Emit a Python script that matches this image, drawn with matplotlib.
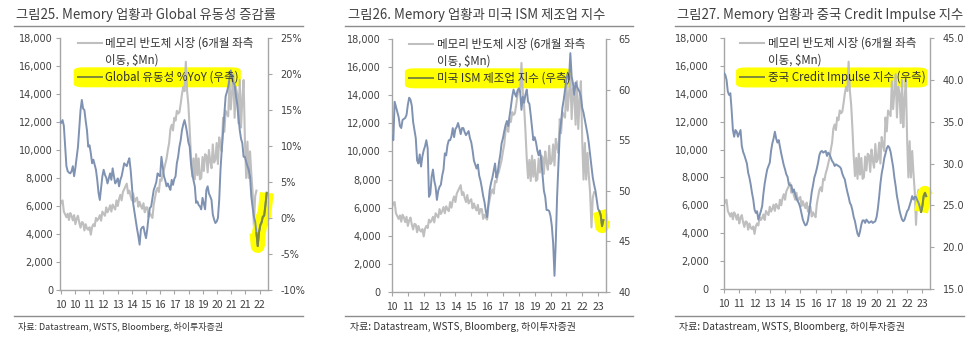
import numpy as np
import matplotlib
matplotlib.use("Agg")
import matplotlib.pyplot as plt
from matplotlib.lines import Line2D
from matplotlib.patches import FancyBboxPatch

plt.rcParams["font.family"] = ["Noto Sans CJK KR", "DejaVu Sans"]

W, H = 972, 346
GRAY = "#BFBFBF"
BLUE = "#7F92B2"
OLIVE = "#7F8A3A"
YELLOW = "#FFFF00"
AXIS = "#A6A6A6"
TXT = "#404040"

# 메모리 반도체 시장 (6개월 좌측 이동, $Mn), 월별, 2010-01 부터
memory = [
    6050, 6300, 6400, 5600, 5400, 5200, 5450, 5000, 5500, 5300, 4970, 5350,
    4700, 5100, 5300, 4800, 4450, 4850, 4800, 4250, 4700, 4400, 4300, 4480,
    3950, 4500, 4700, 4550, 5150, 4950, 5100, 5350, 4950, 5600, 5450, 5300,
    5900, 5550, 5750, 6050, 5600, 6100, 5900, 5750, 6400, 6000, 6500, 6800,
    6400, 7000, 7200, 7400, 7600, 6900, 7100, 6700, 6400, 6900, 6300, 6500,
    6600, 5950, 6300, 6000, 5800, 6200, 5550, 5900, 5900, 5200, 5500, 5300,
    5150, 6100, 6600, 7100, 7300, 7000, 7900, 7800, 8300, 8600, 9000, 9400,
    10000, 10500, 11500, 11800, 11400, 12300, 12100, 12800, 12600, 12700, 13300, 14000,
    14500, 14200, 16300, 14200, 13200, 11500, 9500, 8100, 9400, 7900, 9700, 8200,
    9400, 7900, 8000, 9500, 8500, 9700, 9600, 8400, 10000, 9200, 8700, 10400,
    9100, 9300, 10500, 9000, 10900, 10300, 9900, 12300, 11300, 12800, 12600, 12400,
    14900, 12900, 14200, 15400, 12300, 14500, 14000, 11900, 15000, 11600, 13600, 15000,
    10800, 8000, 10600, 8000, 9900, 8300, 7000, 4600, 6700, 7100,
]

# Global 유동성 %YoY (우측)
liquidity = [
    13.4, 13.2, 13.6, 12.8, 10.0, 7.2, 6.5, 6.3, 6.2, 6.5, 7.2, 5.8,
    7.0, 8.5, 9.9, 12.5, 15.0, 16.4, 15.2, 15.0, 13.5, 12.2, 9.9, 10.1,
    9.0, 7.6, 8.1, 7.4, 6.7, 5.3, 3.5, 2.5, 4.2, 5.8, 6.7, 6.0,
    5.6, 4.8, 5.5, 6.2, 5.3, 6.9, 5.8, 4.8, 5.1, 5.5, 4.4, 5.3,
    5.8, 6.7, 7.6, 7.4, 7.2, 7.8, 8.3, 6.7, 4.5, 2.0, 0.8, -0.5,
    -1.5, -2.5, -3.7, -1.6, -1.3, -1.2, -2.1, -2.8, -1.5, 0.2, 1.4, 1.6,
    2.8, 3.9, 4.4, 5.0, 6.2, 5.9, 5.8, 8.5, 7.2, 5.8, 5.2, 4.4,
    4.8, 4.3, 3.9, 5.3, 4.6, 5.4, 5.8, 7.6, 8.5, 9.9, 10.8, 12.2,
    13.0, 13.6, 12.8, 11.8, 10.5, 9.9, 7.6, 6.2, 5.2, 4.4, 2.1, 2.3,
    1.8, 1.6, 1.2, 2.8, 2.0, 1.2, 3.9, 4.4, 3.4, 3.0, 2.5, 0.5,
    -0.2, -0.7, -0.5, 0.0, 2.5, 6.7, 9.5, 12.0, 14.5, 16.9, 17.5, 18.2,
    19.4, 20.5, 19.5, 18.8, 18.5, 17.0, 15.9, 14.0, 12.2, 11.0, 10.4, 8.5,
    8.5, 7.8, 7.2, 6.7, 5.8, 3.0, 1.5, 0.2, -0.5, -2.1, -3.9, -2.0,
    -1.0, -0.6, 0.2, 0.3, 1.8, 3.5,
]

# 미국 ISM 제조업 지수 (우측)
ism = [
    55.4, 55.0, 58.8, 58.3, 57.8, 57.3, 56.4, 56.2, 57.0, 57.1, 57.2, 57.5,
    58.5, 59.2, 59.0, 58.4, 56.8, 56.0, 55.2, 53.0, 52.7, 53.6, 52.4, 53.4,
    54.0, 54.4, 55.0, 54.2, 49.4, 49.7, 51.4, 52.1, 51.0, 50.4, 49.1, 50.0,
    50.4, 50.6, 51.5, 52.1, 53.7, 53.5, 54.5, 55.0, 55.0, 55.4, 56.2, 55.3,
    56.1, 56.3, 56.7, 56.2, 55.6, 56.2, 56.2, 55.8, 55.5, 55.7, 55.9, 55.2,
    54.8, 54.0, 53.0, 52.6, 52.2, 52.6, 51.5, 51.0, 50.3, 49.5, 48.9, 48.0,
    47.4, 48.8, 50.1, 50.8, 51.3, 52.0, 52.7, 51.3, 51.8, 52.8, 53.6, 54.7,
    55.2, 55.9, 56.5, 56.9, 56.4, 57.4, 58.3, 59.3, 60.0, 59.6, 59.3, 59.9,
    60.1, 59.8, 58.0, 59.3, 58.7, 59.5, 60.0, 58.8, 58.6, 57.5, 56.2, 55.0,
    55.3, 54.8, 54.0, 53.5, 54.0, 53.0, 51.5, 50.0, 49.4, 48.1, 48.1, 48.0,
    47.5, 46.5, 44.8, 41.6, 45.0, 49.5, 52.7, 55.7, 56.8, 58.2, 59.0, 60.0,
    61.0, 61.6, 61.0, 63.6, 61.3, 60.6, 59.5, 60.7, 60.3, 60.0, 59.8, 59.3,
    58.2, 57.7, 57.0, 56.3, 55.6, 54.7, 53.5, 52.4, 51.3, 50.6, 50.0, 49.1,
    48.2, 48.0, 47.6, 46.5, 47.1,
]

# 중국 Credit Impulse 지수 (우측)
credit = [
    40.8, 40.6, 40.0, 38.6, 38.2, 38.4, 36.4, 34.0, 33.2, 34.0, 33.8, 33.2,
    33.6, 34.0, 32.1, 31.4, 31.0, 30.5, 30.0, 28.9, 28.3, 27.5, 26.5, 25.7,
    24.5, 24.1, 24.3, 23.3, 23.8, 24.3, 24.9, 26.4, 27.6, 28.5, 29.3, 29.7,
    30.1, 31.5, 32.4, 33.0, 33.8, 33.0, 32.5, 32.8, 32.0, 31.2, 30.5, 29.8,
    29.3, 28.7, 28.4, 27.5, 27.4, 27.4, 26.6, 26.9, 26.3, 25.8, 25.5, 25.2,
    24.7, 24.0, 23.3, 22.9, 22.6, 22.7, 23.2, 24.2, 25.4, 26.6, 27.4, 28.3,
    28.8, 29.4, 30.1, 31.0, 31.4, 31.5, 31.3, 31.4, 31.5, 30.9, 31.3, 31.1,
    30.7, 30.3, 30.1, 29.7, 29.9, 29.8, 29.7, 29.6, 29.4, 28.8, 28.4, 28.1,
    27.3, 26.6, 26.0, 25.3, 25.0, 24.4, 23.6, 23.1, 22.3, 21.6, 21.3, 21.9,
    22.7, 23.2, 23.2, 22.9, 23.3, 23.1, 22.9, 23.0, 23.1, 22.9, 23.0, 23.1,
    23.6, 24.6, 26.0, 27.6, 28.8, 29.6, 30.6, 31.2, 31.8, 32.1, 31.9, 31.4,
    30.5, 29.6, 28.3, 27.3, 26.1, 25.3, 24.4, 23.8, 23.3, 23.1, 23.3, 23.8,
    24.3, 24.5, 25.0, 25.5, 26.1, 25.7, 26.0, 26.0, 25.6, 25.3, 24.8, 24.2,
    24.9, 26.1, 26.5, 26.1,
]

titles = [
    "그림25. Memory 업황과 Global 유동성 증감률",
    "그림26. Memory 업황과 미국 ISM 제조업 지수",
    "그림27. Memory 업황과 중국 Credit Impulse 지수",
]
memory_label = ["메모리 반도체 시장 (6개월 좌측", r"이동, \$Mn)"]
series_labels = ["Global 유동성 %YoY (우측)", "미국 ISM 제조업 지수 (우측)", "중국 Credit Impulse 지수 (우측)"]
source = "자료: Datastream, WSTS, Bloomberg, 하이투자증권"

left_ticks = list(range(0, 18001, 2000))
left_labels = ["{:,}".format(v) for v in left_ticks]
right_ticks_25 = [-10, -5, 0, 5, 10, 15, 20, 25]
right_labels_25 = ["-10%", "-5%", "0%", "5%", "10%", "15%", "20%", "25%"]
right_ticks_26 = [40, 45, 50, 55, 60, 65]
right_labels_26 = ["40", "45", "50", "55", "60", "65"]
right_ticks_27 = [15, 20, 25, 30, 35, 40, 45]
right_labels_27 = ["15.0", "20.0", "25.0", "30.0", "35.0", "40.0", "45.0"]
x_labels_25 = ["10", "10", "11", "12", "13", "14", "15", "16", "17", "18", "19", "20", "21", "21", "22"]
x_labels = ["10", "11", "12", "13", "14", "15", "16", "17", "18", "19", "20", "21", "22", "23"]

fig = plt.figure(figsize=(W / 100, H / 100), dpi=100)


def fig_line(x0, x1, y):
    fig.add_artist(Line2D([x0 / W, x1 / W], [1 - y / H, 1 - y / H],
                          transform=fig.transFigure, color="#8C8C8C", lw=1.0))


def panel(box, frame, title, series, label, rticks, rlabels, rlim, xlabels, hl_from,
          leg_x, lpad, rpad, src_size):
    left, top, right, bottom = box
    fx0, fx1, tx = frame
    ax = fig.add_axes([left / W, 1 - bottom / H, (right - left) / W, (bottom - top) / H])
    ax2 = ax.twinx()

    ax.plot(np.arange(len(memory)), memory, color=GRAY, lw=1.5, zorder=2)
    xs = np.arange(len(series))
    ax2.plot(xs[hl_from:], series[hl_from:], color=YELLOW, lw=10,
             solid_capstyle="butt", clip_on=False, zorder=1)
    ax2.plot(xs, series, color=BLUE, lw=1.4, zorder=2)
    ax2.plot(xs[hl_from:], series[hl_from:], color=OLIVE, lw=1.4, zorder=3, clip_on=False)

    ax.set_xlim(0, 162)
    ax.set_ylim(0, 18000)
    ax2.set_ylim(*rlim)
    ax.set_yticks(left_ticks, left_labels)
    ax2.set_yticks(rticks, rlabels)
    xpos = np.linspace(0.5, 155.5, len(xlabels)) if len(xlabels) == 15 else np.arange(len(xlabels)) * 12
    ax.set_xticks(xpos, xlabels)

    for s in ["top", "right"]:
        ax.spines[s].set_visible(False)
    for s in ["top", "left", "bottom"]:
        ax2.spines[s].set_visible(False)
    for sp in [ax.spines["left"], ax.spines["bottom"], ax2.spines["right"]]:
        sp.set_color(AXIS)
        sp.set_linewidth(1.0)
    ax.tick_params(axis="y", direction="out", length=3, color=AXIS, labelsize=7, labelcolor=TXT, pad=lpad)
    ax.tick_params(axis="x", direction="out", length=3, color=AXIS, labelsize=7.5, labelcolor=TXT, pad=4)
    ax2.tick_params(axis="y", direction="out", length=3, color=AXIS, labelsize=7, labelcolor=TXT, pad=rpad)
    plt.setp(ax.get_yticklabels(), family="DejaVu Sans")
    plt.setp(ax2.get_yticklabels(), family="DejaVu Sans")

    handles = [Line2D([], [], color=GRAY, lw=1.5), Line2D([], [], color="none"),
               Line2D([], [], color=OLIVE, lw=1.4)]
    leg = ax2.legend(handles, memory_label + [label], loc="upper left",
                     bbox_to_anchor=(leg_x, 1.005), frameon=False, fontsize=8.3,
                     handlelength=2.1, handletextpad=0.3, labelspacing=0.35,
                     borderpad=0, borderaxespad=0, labelcolor="#333333")

    fig.text(tx / W, 1 - 14.5 / H, title, fontsize=9.6, color=TXT, va="center", ha="left")
    fig_line(fx0, fx1, 26)
    fig_line(fx0, fx1, 315.7)
    fig.text((tx + 2) / W, 1 - 326.5 / H, source, fontsize=src_size, color="#333333",
             va="center", ha="left")
    return ax, leg


panels = [
    panel((60, 38, 268, 290), (14, 303, 16), titles[0], liquidity, series_labels[0],
          right_ticks_25, right_labels_25, (-10, 25), x_labels_25, 153, 0.085, 2, 6, 6.5),
    panel((392, 39, 606, 292), (345, 633, 348), titles[1], ism, series_labels[1],
          right_ticks_26, right_labels_26, (40, 65), x_labels, 157, 0.079, 5, 6, 7.2),
    panel((724, 38, 930, 289), (675, 964, 677), titles[2], credit, series_labels[2],
          right_ticks_27, right_labels_27, (15, 45), x_labels, 155, 0.078, 8, 6, 7.2),
]

# 범례 형광펜 표시
fig.canvas.draw()
renderer = fig.canvas.get_renderer()
for ax, leg in panels:
    tb = leg.get_texts()[2].get_window_extent(renderer)
    lb = leg.get_window_extent(renderer)
    x0, x1 = lb.x0 - 4, tb.x1 + 2
    yc = (tb.y0 + tb.y1) / 2
    hl = FancyBboxPatch((x0 / W, (yc - 10) / H), (x1 - x0) / W, 20 / H,
                        boxstyle="round,pad=0,rounding_size=0.01",
                        transform=fig.transFigure, facecolor=YELLOW, edgecolor="none",
                        clip_on=False, zorder=1.5)
    ax.add_patch(hl)

fig.savefig("out.png", dpi=100)
